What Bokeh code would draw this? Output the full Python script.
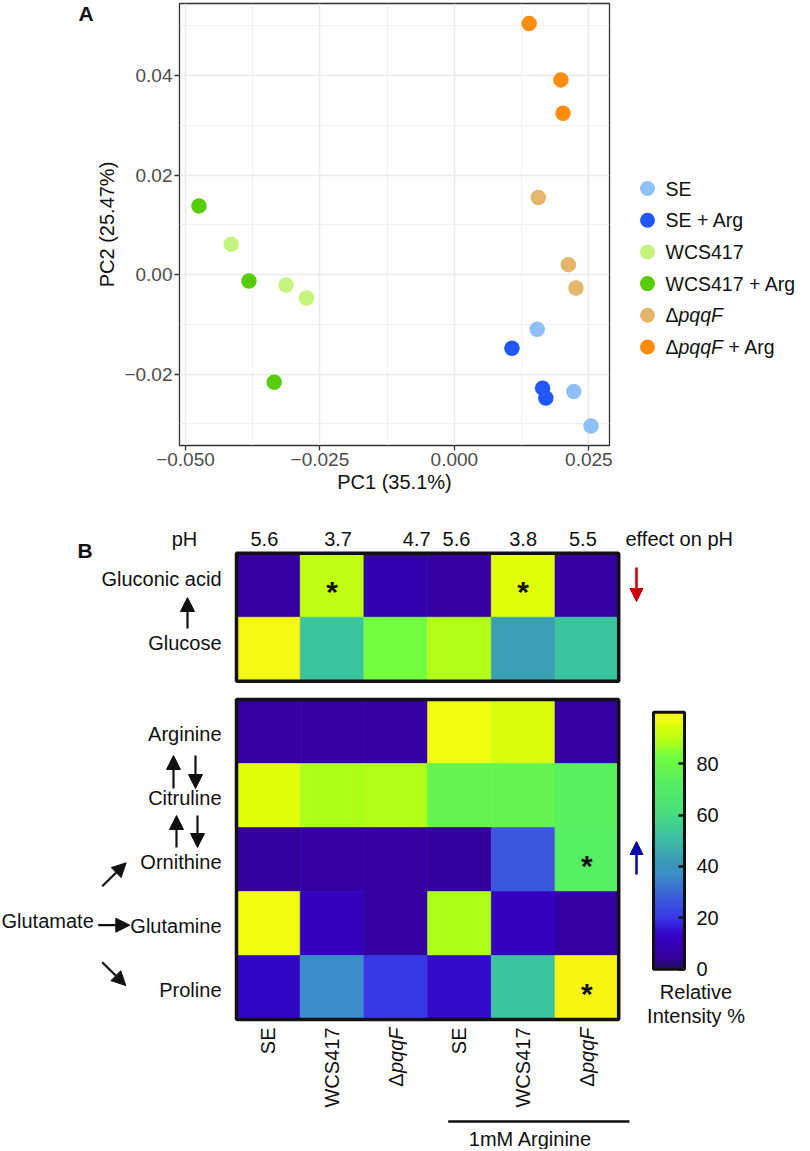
import numpy as np
from bokeh.plotting import figure
from bokeh.models import (Range1d, FixedTicker, LinearColorMapper, ColorBar, Arrow,
                          NormalHead, ColumnDataSource)
from bokeh.layouts import column, row
from bokeh.embed import file_html
from bokeh.resources import INLINE
from bokeh.core.properties import value
from bokeh.transform import transform

FONT = "Liberation Sans"

# ------------------------------------------------------------------ data A
groups = ["SE", "SE + Arg", "WCS417", "WCS417 + Arg", "ΔpqqF", "ΔpqqF + Arg"]
group_colors = ["#8DC1F7", "#2157FA", "#C4F47C", "#57CC08", "#E4B56B", "#FF8C0D"]

pc1_SE = [0.0154, 0.0222, 0.0254]
pc2_SE = [-0.0110, -0.0235, -0.0304]
pc1_SE_Arg = [0.0107, 0.0164, 0.0170]
pc2_SE_Arg = [-0.0148, -0.0228, -0.0248]
pc1_WCS417 = [-0.0415, -0.0313, -0.0275]
pc2_WCS417 = [0.0061, -0.0021, -0.0047]
pc1_WCS417_Arg = [-0.0475, -0.0382, -0.0335]
pc2_WCS417_Arg = [0.0138, -0.0013, -0.0216]
pc1_pqqF = [0.0156, 0.0212, 0.0226]
pc2_pqqF = [0.0155, 0.0020, -0.0027]
pc1_pqqF_Arg = [0.0139, 0.0198, 0.0202]
pc2_pqqF_Arg = [0.0504, 0.0391, 0.0324]

x_ticks = [-0.050, -0.025, 0.000, 0.025]
x_tick_labels = ["−0.050", "−0.025", "0.000", "0.025"]
x_minor = [-0.0375, -0.0125, 0.0125]
y_ticks = [-0.02, 0.00, 0.02, 0.04]
y_tick_labels = ["−0.02", "0.00", "0.02", "0.04"]
y_minor = [-0.03, -0.01, 0.01, 0.03, 0.05]

# ------------------------------------------------------------------ data B
columns = ["SE", "WCS417", "ΔpqqF", "SE", "WCS417", "ΔpqqF"]
pH_values = ["5.6", "3.7", "4.7", "5.6", "3.8", "5.5"]
top_rows = ["Gluconic acid", "Glucose"]
bottom_rows = ["Arginine", "Citruline", "Ornithine", "Glutamine", "Proline"]
gluconic = [6, 91, 8, 6, 95, 6]
glucose = [99, 52, 83, 89, 43, 52]
arginine = [6, 6, 6, 97, 94, 6]
citruline = [95, 88, 89, 76, 76, 74]
ornithine = [5, 6, 6, 5, 27, 73]
glutamine = [97, 12, 6, 88, 12, 6]
proline = [13, 37, 20, 14, 52, 100]
significant = [("Gluconic acid", 1), ("Gluconic acid", 4), ("Ornithine", 5), ("Proline", 5)]
cbar_ticks = [0, 20, 40, 60, 80]

# ------------------------------------------------------------------ palette (style)
anchor_vals = [0, 4, 12, 15, 20, 27, 37, 43, 52, 62, 74, 76, 83, 88, 91, 95, 97, 100]
anchor_cols = ["#1E0F5A", "#330099", "#3300C2", "#3310D0", "#3838E8", "#3A58DD",
               "#3A8EC8", "#3A9EB5", "#3CC4A0", "#4AE07A", "#58F060", "#62F552",
               "#70FF40", "#AAFF1A", "#C0FF10", "#DDFF08", "#EEFF10", "#F8F510"]
rgb = np.array([[int(c[i:i + 2], 16) for i in (1, 3, 5)] for c in anchor_cols], float)
grid = np.linspace(0, 100, 256)
palette = ["#%02x%02x%02x" % tuple(int(round(np.interp(g, anchor_vals, rgb[:, j]))) for j in range(3))
           for g in grid]
mapper = LinearColorMapper(palette=palette, low=0, high=100)

# ------------------------------------------------------------------ panel A
TOPB, BOTB = 1, 62        # borders shared by all figures of the top row
FRAME_H = 505 - TOPB - BOTB
LETTER_W = 93

# narrow figure holding the panel letter
pLetter = figure(width=LETTER_W, height=505, x_range=Range1d(0, LETTER_W), y_range=Range1d(FRAME_H, 0),
                 x_axis_location=None, y_axis_location=None, output_backend="svg",
                 toolbar_location=None, min_border=0, min_border_top=TOPB, min_border_bottom=BOTB)
pLetter.grid.visible = False
pLetter.outline_line_color = None
pLetter.text(x=[85.5], y=[10], text=["A"], text_font=value(FONT), text_font_size=value("21px"),
             text_font_style="bold", text_color="#111111", text_align="center", text_baseline="middle")

pA = figure(width=630 - LETTER_W, height=505,
            x_range=Range1d(-0.05111, 0.02884), y_range=Range1d(-0.03432, 0.05444),
            output_backend="svg", toolbar_location=None,
            min_border_left=178 - LETTER_W, min_border_right=21, min_border_top=TOPB, min_border_bottom=BOTB,
            background_fill_color="white", border_fill_color="white")
pA.outline_line_color = "#333333"
pA.outline_line_width = 1.3

pA.xaxis.ticker = FixedTicker(ticks=x_ticks, minor_ticks=x_minor)
pA.yaxis.ticker = FixedTicker(ticks=y_ticks, minor_ticks=y_minor)
pA.xgrid.ticker = FixedTicker(ticks=x_ticks, minor_ticks=x_minor)
pA.ygrid.ticker = FixedTicker(ticks=y_ticks, minor_ticks=y_minor)
pA.xaxis.major_label_overrides = dict(zip(x_ticks, x_tick_labels))
pA.yaxis.major_label_overrides = dict(zip(y_ticks, y_tick_labels))
for g in (pA.xgrid, pA.ygrid):
    g.grid_line_color = "#EBEBEB"
    g.grid_line_width = 1.6
    g.minor_grid_line_color = "#EEEEEE"
    g.minor_grid_line_width = 0.8
for ax in (pA.xaxis, pA.yaxis):
    ax.axis_line_color = None
    ax.major_tick_line_color = "#333333"
    ax.major_tick_line_width = 1.3
    ax.major_tick_in = 0
    ax.major_tick_out = 5
    ax.minor_tick_line_color = None
    ax.major_label_text_font = FONT
    ax.major_label_text_font_size = "19px"
    ax.major_label_text_color = "#4D4D4D"
    ax.major_label_standoff = 2
    ax.axis_label_text_font = FONT
    ax.axis_label_text_font_size = "20px"
    ax.axis_label_text_font_style = "normal"
    ax.axis_label_text_color = "#111111"
pA.xaxis.axis_label = "PC1 (35.1%)"
pA.yaxis.axis_label = "PC2 (25.47%)"
pA.xaxis.axis_label_standoff = 2
pA.yaxis.axis_label_standoff = 3

pca = [(pc1_SE, pc2_SE), (pc1_SE_Arg, pc2_SE_Arg), (pc1_WCS417, pc2_WCS417),
       (pc1_WCS417_Arg, pc2_WCS417_Arg), (pc1_pqqF, pc2_pqqF), (pc1_pqqF_Arg, pc2_pqqF_Arg)]
for (xs_, ys_), col in zip(pca, group_colors):
    pA.scatter(x=xs_, y=ys_, size=15.5, fill_color=col, line_color=None)

# legend figure (to the right of panel A); its frame shares panel A's frame height
pL = figure(width=172, height=505, x_range=Range1d(0, 172), y_range=Range1d(FRAME_H, 0),
            x_axis_location=None, y_axis_location=None, output_backend="svg",
            toolbar_location=None, min_border=0, min_border_top=TOPB, min_border_bottom=BOTB)
pL.grid.visible = False
pL.outline_line_color = None
leg_y = [185 + i * 31.7 for i in range(len(groups))]
pL.scatter(x=[17] * len(groups), y=leg_y, size=15, fill_color=group_colors, line_color=None)
seg_x, seg_y, seg_t, seg_s = [], [], [], []
for name, yy in zip(groups, leg_y):
    if name.startswith("Δ"):
        rest = name[len("ΔpqqF"):].strip()
        parts = [("Δ", "normal", 0.0), ("pqqF", "italic", 13.0)]
        if rest:
            parts.append((rest, "normal", 63.0))
    else:
        parts = [(name, "normal", 0.0)]
    for t, s, off in parts:
        seg_x.append(35 + off); seg_y.append(yy); seg_t.append(t); seg_s.append(s)
pL.text(x="x", y="y", text="t", text_font_style="s",
        source=ColumnDataSource(dict(x=seg_x, y=seg_y, t=seg_t, s=seg_s)),
        text_font=value(FONT), text_font_size=value("19.5px"), text_color="#111111",
        text_align="left", text_baseline="middle")

# ------------------------------------------------------------------ panel B
X0, CW = 236.0, 63.7
Y0, RH = 552.7, 64.0
BOTTOM_TOP = 699.0
B_TOP, B_BOT = 507, 1149


def X(px):
    return (px - X0) / CW


def Y(py):
    return -(py - Y0) / RH


gap_rows = (BOTTOM_TOP - Y0) / RH
row_y = {}
for k, r in enumerate(top_rows):
    row_y[r] = -(k + 0.5)
for k, r in enumerate(bottom_rows):
    row_y[r] = -(gap_rows + k + 0.5)

heat = {"Gluconic acid": gluconic, "Glucose": glucose, "Arginine": arginine,
        "Citruline": citruline, "Ornithine": ornithine, "Glutamine": glutamine,
        "Proline": proline}

pB = figure(width=802, height=B_BOT - B_TOP, x_range=Range1d(X(0), X(802)),
            y_range=Range1d(Y(B_BOT), Y(B_TOP)),
            x_axis_location=None, y_axis_location=None, output_backend="svg",
            toolbar_location=None, min_border=0)
pB.grid.visible = False
pB.outline_line_color = None

hx, hy, hv = [], [], []
for r in top_rows + bottom_rows:
    for i, v in enumerate(heat[r]):
        hx.append(i + 0.5); hy.append(row_y[r]); hv.append(v)
hsrc = ColumnDataSource(dict(x=hx, y=hy, v=hv))
pB.rect(x="x", y="y", width=1, height=1, source=hsrc,
        fill_color=transform("v", mapper), line_color=transform("v", mapper), line_width=0.6)

ncol = len(columns)
pB.rect(x=[ncol / 2, ncol / 2], y=[-len(top_rows) / 2, -(gap_rows + len(bottom_rows) / 2)],
        width=[ncol, ncol], height=[len(top_rows), len(bottom_rows)],
        fill_color=None, line_color="#111111", line_width=3.5)

# stars
sx = [i + 0.5 for r, i in significant]
sy = [row_y[r] for r, i in significant]
pB.text(x=sx, y=sy, text=["*"] * len(sx), text_font=value(FONT), text_font_size=value("30px"),
        text_font_style="bold", text_color="#111111", text_align="center",
        text_baseline="middle", y_offset=6)

TXT = dict(text_font=value(FONT), text_font_size=value("20px"), text_color="#111111")

# row labels
rl_x, rl_y, rl_t = [], [], []
for r in top_rows:
    rl_x.append(X(221)); rl_y.append(row_y[r] + 6.7 / RH); rl_t.append(r)
for r in bottom_rows:
    rl_x.append(X(221)); rl_y.append(row_y[r] - 2.5 / RH); rl_t.append(r)
pB.text(x=rl_x, y=rl_y, text=rl_t, text_align="right", text_baseline="middle", **TXT)

# pH row
pH_dx = [-4, 6, 21, -3, 0, -4]
pB.text(x=[i + 0.5 + d / CW for i, d in enumerate(pH_dx)], y=[Y(538)] * ncol, text=pH_values,
        text_align="center", text_baseline="middle", **TXT)
pB.text(x=[X(184)], y=[Y(538)], text=["pH"], text_align="center", text_baseline="middle", **TXT)
pB.text(x=[X(625)], y=[Y(538)], text=["effect on pH"], text_align="left", text_baseline="middle", **TXT)

# panel letter
pB.text(x=[X(84.5)], y=[Y(549.7)], text=["B"], text_font=value(FONT), text_font_size=value("21px"),
        text_font_style="bold", text_color="#111111", text_align="center", text_baseline="middle")

# column labels (rotated)
cx_n, cy_n, ct_n = [], [], []
cx_i, cy_i, ct_i = [], [], []
for i, c in enumerate(columns):
    if c.startswith("Δ"):
        cx_i.append(i + 0.5); cy_i.append(Y(1027)); ct_i.append(c[1:])
        cx_n.append(i + 0.5); cy_n.append(Y(1027 + 45.8)); ct_n.append("Δ")
    else:
        cx_n.append(i + 0.5); cy_n.append(Y(1027)); ct_n.append(c)
pB.text(x=cx_n, y=cy_n, text=ct_n, angle=np.pi / 2, text_align="right", text_baseline="middle", **TXT)
pB.text(x=cx_i, y=cy_i, text=ct_i, angle=np.pi / 2, text_align="right", text_baseline="middle",
        text_font_style="italic", **TXT)

# 1mM Arginine bar
pB.segment(x0=[X(447.7)], y0=[Y(1121)], x1=[X(629)], y1=[Y(1121)], line_color="#111111", line_width=2.6)
pB.text(x=[X(530)], y=[Y(1138.5)], text=["1mM Arginine"], text_align="center",
        text_baseline="middle", y_offset=0, **{**TXT, "text_font_size": value("20px")})

# Glutamate
pB.text(x=[X(1)], y=[Y(920.7)], text=["Glutamate"], text_align="left", text_baseline="middle", **TXT)

# pathway arrows
black_arrows = [((187, 628), (187, 597)), ((173, 788), (173, 755)), ((195, 755), (195, 788)),
                ((176, 847), (176, 815)), ((197, 815), (197, 847)),
                ((101.7, 885.7), (125.7, 862.3)), ((97.7, 924.7), (129.3, 924.7)),
                ((101.7, 961.7), (125.3, 985))]
for (ax0, ay0), (ax1, ay1) in black_arrows:
    pB.add_layout(Arrow(end=NormalHead(size=14, fill_color="#111111", line_color="#111111", line_width=1),
                        x_start=X(ax0), y_start=Y(ay0), x_end=X(ax1), y_end=Y(ay1),
                        line_color="#111111", line_width=2.2))
pB.add_layout(Arrow(end=NormalHead(size=13, fill_color="#CC0000", line_color="#CC0000", line_width=1),
                    x_start=X(636), y_start=Y(567), x_end=X(636), y_end=Y(601),
                    line_color="#CC0000", line_width=2.6))
pB.add_layout(Arrow(end=NormalHead(size=13, fill_color="#0A0AA8", line_color="#0A0AA8", line_width=1),
                    x_start=X(636), y_start=Y(874), x_end=X(636), y_end=Y(841),
                    line_color="#0A0AA8", line_width=2.6))

# colour bar
CB_LEFT, CB_BOTTOM, CB_W, CB_H = 653, 968.7, 31, 257
cb = ColorBar(color_mapper=mapper, location=(CB_LEFT, B_BOT - CB_BOTTOM),
              width=CB_W, height=CB_H, padding=0, margin=0,
              ticker=FixedTicker(ticks=cbar_ticks), bar_line_color="#111111", bar_line_width=3,
              border_line_color=None, background_fill_color=None,
              major_tick_line_color="#111111", major_tick_line_width=2.5,
              major_tick_in=6, major_tick_out=0, minor_tick_line_color=None,
              label_standoff=12, major_label_text_font=FONT, major_label_text_font_size="20px",
              major_label_text_color="#111111")
pB.add_layout(cb)
px_per_unit = CB_H / 100.0
tk = [t for t in cbar_ticks if t > 0]
pB.segment(x0=[X(CB_LEFT)] * len(tk), x1=[X(CB_LEFT + 6)] * len(tk),
           y0=[Y(CB_BOTTOM - t * px_per_unit) for t in tk], y1=[Y(CB_BOTTOM - t * px_per_unit) for t in tk],
           line_color="#111111", line_width=2.5)
pB.text(x=[X(695.5), X(695.5)], y=[Y(991.7), Y(1015)], text=["Relative", "Intensity %"],
        text_align="center", text_baseline="middle", **TXT)

layout = column(row(pLetter, pA, pL), pB, margin=(2, 0, 0, 0))
open("out.html", "w").write(file_html(layout, INLINE))
